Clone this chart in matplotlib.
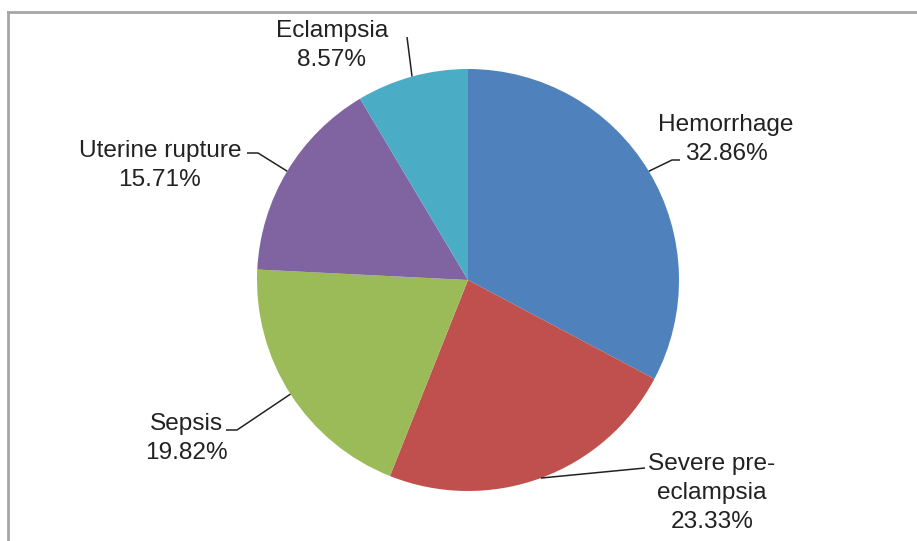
"""Pie chart: causes of maternal death (share of cases)."""

import numpy as np
import matplotlib
matplotlib.use("Agg")
import matplotlib.pyplot as plt
from matplotlib.lines import Line2D

W, H = 917, 541

causes = ["Hemorrhage", "Severe pre-\neclampsia", "Sepsis", "Uterine rupture", "Eclampsia"]
shares = [32.86, 23.33, 19.82, 15.71, 8.57]
colors = ["#4F81BD", "#C0504D", "#9BBB59", "#8064A2", "#4BACC6"]

# label placement (pixels, top-left origin): centre x, first baseline y
label_pos = [(726, 131), (712, 470), (186, 430), (160, 157), (332, 37)]
# leader line points after the wedge edge point
leader_pts = [
    [(672, 160), (680, 160)],
    [(645, 468)],
    [(237, 430), (226, 430)],
    [(258, 153), (247, 153)],
    [(407, 37)],
]

CX, CY, R = 468, 280, 211
LINE_H = 29

fig = plt.figure(figsize=(W / 100, H / 100), dpi=100)
ax = fig.add_axes([0, 0, 1, 1])

wedges, _ = ax.pie(shares, colors=colors, startangle=90, counterclock=False,
                   center=(CX, H - CY), radius=R,
                   wedgeprops=dict(linewidth=0))
ax.set_xlim(0, W)
ax.set_ylim(0, H)
ax.set_aspect("equal")
ax.axis("off")

text_kw = dict(fontsize=17.6, family=["Liberation Sans", "DejaVu Sans"],
               color="#222222", ha="center", va="baseline")

for w, name, val, (lx, ly), pts in zip(wedges, causes, shares, label_pos, leader_pts):
    mid = np.deg2rad((w.theta1 + w.theta2) / 2)
    ex = CX + R * np.cos(mid)
    ey = CY - R * np.sin(mid)
    xs = [ex] + [p[0] for p in pts]
    ys = [ey] + [p[1] for p in pts]
    ax.plot(xs, [H - y for y in ys], color="#222222", lw=1.1, solid_capstyle="butt")
    lines = name.split("\n") + [f"{val:.2f}%"]
    for i, s in enumerate(lines):
        ax.text(lx, H - (ly + i * LINE_H), s, **text_kw)

# chart area border (only top and left edges visible in the crop)
fig.add_artist(Line2D([8 / W, 1], [1 - 12 / H, 1 - 12 / H], color="#A6A6A6", lw=2,
                      transform=fig.transFigure))
fig.add_artist(Line2D([8 / W, 8 / W], [0, 1 - 12 / H], color="#A6A6A6", lw=2,
                      transform=fig.transFigure))

fig.savefig("out.png", dpi=100)
